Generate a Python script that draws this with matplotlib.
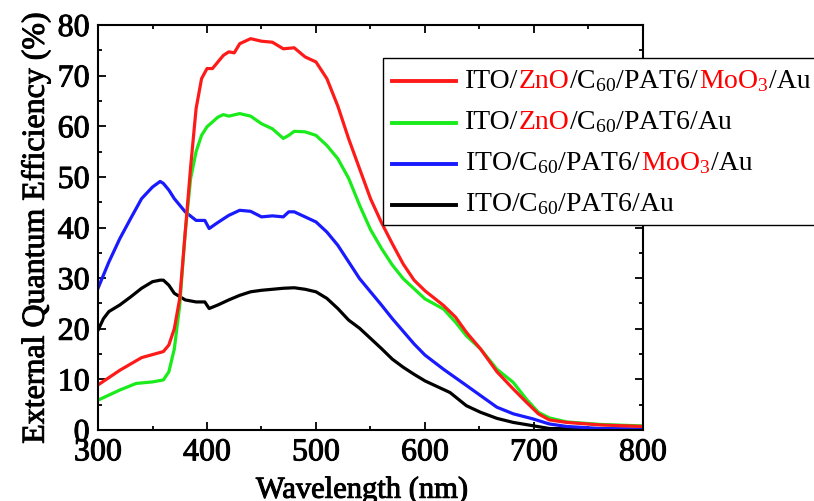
import numpy as np
import matplotlib
matplotlib.use("Agg")
import matplotlib.pyplot as plt
import matplotlib.patheffects as pe
from matplotlib.offsetbox import (TextArea, DrawingArea, HPacker, VPacker,
                                  AnchoredOffsetbox)
from matplotlib.lines import Line2D

plt.rcParams['font.family'] = 'Liberation Serif'
plt.rcParams['mathtext.fontset'] = 'custom'
plt.rcParams['mathtext.rm'] = 'Liberation Serif'
plt.rcParams['mathtext.it'] = 'Liberation Serif:italic'

# ===========================
# DATOS
# ===========================
wl_red = [300, 320, 340, 360, 365, 370, 375, 380, 385, 390, 395, 400, 405, 410,
          415, 420, 425, 430, 440, 450, 460, 470, 480, 490, 500, 510, 520, 530,
          540, 550, 560, 570, 580, 590, 600, 617, 628, 638, 651, 666, 681, 693,
          704, 714, 730, 761, 800]
eqe_red = [8.9, 11.8, 14.3, 15.5, 16.8, 20.0, 26.0, 39.0, 52.0, 63.5, 69.4, 71.4,
           71.4, 72.7, 74.0, 74.7, 74.5, 76.3, 77.3, 76.8, 76.6, 75.3, 75.5, 73.7,
           72.7, 69.4, 64.0, 57.5, 51.6, 45.7, 41.0, 36.8, 32.8, 29.6, 27.5, 24.6,
           22.3, 19.3, 16.0, 11.5, 8.1, 5.5, 3.2, 2.0, 1.5, 1.0, 0.7]

wl_green = [300, 320, 335, 350, 360, 365, 370, 375, 380, 385, 390, 395, 400, 410,
            415, 420, 430, 440, 450, 460, 470, 475, 480, 490, 500, 510, 520, 530,
            540, 550, 560, 570, 580, 600, 617, 628, 638, 651, 666, 681, 693, 704,
            714, 730, 761, 800]
eqe_green = [5.9, 7.9, 9.2, 9.5, 9.9, 11.5, 16.0, 24.7, 39.0, 49.7, 55.0, 58.2,
             59.9, 61.8, 62.3, 62.0, 62.5, 62.0, 60.5, 59.5, 57.6, 58.2, 59.0, 58.9,
             58.2, 56.2, 53.6, 49.7, 44.4, 39.6, 35.9, 32.6, 29.9, 25.9, 23.9, 21.3,
             18.6, 16.0, 12.0, 9.4, 6.1, 3.5, 2.4, 1.6, 1.1, 0.8]

wl_blue = [300, 310, 320, 330, 340, 350, 357, 360, 365, 370, 380, 390, 398, 402,
           410, 420, 430, 440, 450, 460, 470, 475, 480, 490, 500, 510, 520, 530,
           540, 550, 560, 570, 580, 590, 600, 617, 638, 651, 666, 681, 699, 714,
           730, 761, 800]
eqe_blue = [28.0, 33.2, 37.8, 41.8, 45.7, 48.0, 49.1, 48.7, 47.4, 45.7, 43.1, 41.4,
            41.4, 39.8, 41.0, 42.4, 43.4, 43.2, 42.1, 42.3, 42.1, 43.1, 43.1, 42.1,
            41.1, 39.1, 36.5, 33.2, 29.9, 27.3, 24.7, 22.0, 19.5, 17.0, 14.8, 12.0,
            8.8, 6.8, 4.5, 3.2, 2.2, 1.2, 0.7, 0.3, 0.2]

wl_black = [300, 305, 310, 320, 330, 340, 350, 357, 360, 365, 370, 380, 390, 398,
            402, 410, 420, 430, 440, 450, 460, 470, 480, 490, 500, 510, 520, 530,
            540, 550, 560, 570, 580, 590, 600, 623, 638, 651, 666, 681, 699, 714,
            760, 800]
eqe_black = [19.7, 22.0, 23.4, 24.7, 26.3, 28.0, 29.3, 29.6, 29.6, 28.6, 27.0,
             25.7, 25.3, 25.3, 24.0, 24.7, 25.7, 26.6, 27.3, 27.6, 27.8, 28.0, 28.1,
             27.8, 27.3, 26.0, 24.0, 21.7, 20.1, 18.1, 16.1, 14.0, 12.4, 11.0, 9.7,
             7.4, 4.8, 3.5, 2.3, 1.5, 0.85, 0.3, 0.15, 0.1]

# etiquetas: lista de (texto, color) por entrada
legend_parts = [
    [("ITO/", "k"), ("ZnO", "r"), ("/C$_{60}$/PAT6/", "k"), ("MoO$_3$", "r"), ("/Au", "k")],
    [("ITO/", "k"), ("ZnO", "r"), ("/C$_{60}$/PAT6/Au", "k")],
    [("ITO/C$_{60}$/PAT6/", "k"), ("MoO$_3$", "r"), ("/Au", "k")],
    [("ITO/C$_{60}$/PAT6/Au", "k")],
]
line_colors = ["#ff1a1a", "#1aeb1a", "#1a1aff", "black"]

# ===========================
# GRAFICA
# ===========================
fig = plt.figure(figsize=(8.14, 5.02), dpi=100)
ax = fig.add_axes([0.1204, 0.1414, 0.6695, 0.8068])

series = [(wl_black, eqe_black), (wl_blue, eqe_blue),
          (wl_green, eqe_green), (wl_red, eqe_red)]
for (x, y), c in zip(series, line_colors[::-1]):
    ax.plot(x, y, color=c, lw=2.3)

ax.set_xlim(300, 800)
ax.set_ylim(0, 80)
ax.set_xticks(np.arange(300, 801, 100))
ax.set_xticks(np.arange(300, 801, 50), minor=True)
ax.set_yticks(np.arange(0, 81, 10))
ax.set_yticks(np.arange(0, 81, 5), minor=True)
ax.tick_params(which='both', direction='in', top=True, right=True,
               labelsize=23, width=1.3)
ax.tick_params(which='major', length=6, pad=6)
ax.tick_params(which='minor', length=3)
for s in ax.spines.values():
    s.set_linewidth(1.5)

# trazo fino para engrosar un poco el texto (semi-negrita)
heavy = [pe.withStroke(linewidth=0.7, foreground='black')]
for lab in ax.get_xticklabels() + ax.get_yticklabels():
    lab.set_path_effects(heavy)

ax.set_xlabel("Wavelength (nm)", fontsize=22, labelpad=6, path_effects=heavy)
ax.xaxis.label.set_x(0.484)
ax.set_ylabel("External Quantum Efficiency (%)", fontsize=23, labelpad=5,
              path_effects=heavy)

# leyenda con texto multicolor (unidades en puntos: 1 px = 0.72 pt)
rows = []
for parts, c in zip(legend_parts, line_colors):
    da = DrawingArea(46, 10, 0, 0)
    da.add_artist(Line2D([0, 46], [4, 4], color=c, lw=2.8))
    pieces = [TextArea(t, textprops=dict(color=tc, fontsize=20)) for t, tc in parts]
    txt = HPacker(children=pieces, align="baseline", pad=0, sep=0)
    rows.append(HPacker(children=[da, txt], align="center", pad=0, sep=6.5))
box = VPacker(children=rows, align="left", pad=0, sep=11)
anchored = AnchoredOffsetbox(loc="upper left", child=box, pad=0.65, borderpad=0,
                             frameon=True, bbox_to_anchor=(383 / 814, 1 - 59 / 502),
                             bbox_transform=fig.transFigure)
anchored.patch.set_edgecolor("black")
anchored.patch.set_linewidth(1.0)
anchored.patch.set_boxstyle("square", pad=0)
ax.add_artist(anchored)

plt.savefig("out.png", dpi=100)
